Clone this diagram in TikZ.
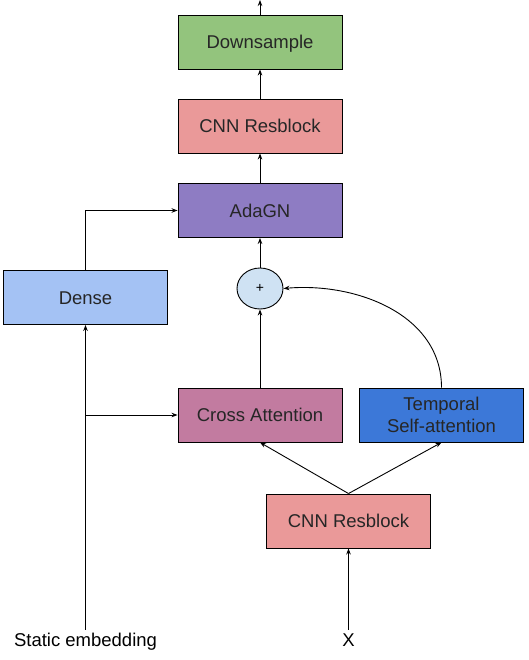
\documentclass[tikz,border=0pt]{standalone}
\usepackage{fontspec}
\setmainfont{Liberation Sans}
\usetikzlibrary{arrows.meta,positioning,shapes,calc}

\definecolor{dsgreen}{HTML}{93C47D}
\definecolor{resred}{HTML}{EA9999}
\definecolor{adapurple}{HTML}{8E7CC3}
\definecolor{densblue}{HTML}{A4C2F4}
\definecolor{crosspink}{HTML}{C27BA0}
\definecolor{tempblue}{HTML}{3C78D8}
\definecolor{plusblue}{HTML}{CFE2F3}

\tikzset{
  block/.style={draw=black, line width=0.9pt, minimum width=164pt, minimum height=54pt,
    inner sep=0pt, align=center, font=\fontsize{18.5}{21.5}\selectfont, text=black!85},
  oneline/.style={text height=13.3pt, text depth=0pt},
  arr/.style={-{Stealth[length=6pt,width=4.5pt]}, line width=0.9pt},
  lbl/.style={font=\fontsize{18.5}{21}\selectfont, text height=13.3pt, text depth=0pt}
}

\begin{document}
\begin{tikzpicture}[x=1pt, y=-1pt]
\useasboundingbox (0,0) rectangle (528,660);

% Main column
\node[block, oneline, fill=dsgreen] (down) at (260,42) {Downsample};
\node[block, oneline, fill=resred] (res1) at (260,126) {CNN Resblock};
\node[block, oneline, fill=adapurple] (ada) at (260,210.5) {AdaGN};
\node[draw=black, line width=0.9pt, fill=plusblue, ellipse, minimum width=46pt,
  minimum height=41pt, inner sep=0pt, font=\fontsize{14}{16}\selectfont] (plus) at (260,288.5) {+};

% Side blocks
\node[block, oneline, fill=densblue] (dense) at (85.5,297.5) {Dense};
\node[block, oneline, fill=crosspink] (cross) at (260,415) {Cross Attention};
\node[block, fill=tempblue] (temp) at (441.5,415) {Temporal\\Self-attention};
\node[block, oneline, fill=resred] (res2) at (348.5,521) {CNN Resblock};

% Inputs
\node[lbl] (emb) at (85.5,640) {Static embedding};
\node[lbl] (x) at (348.5,640) {X};
\coordinate (out) at (260,0);
\coordinate (split) at (85.5,415);

% Arrows
\draw[arr] (down.north) -- (out);
\draw[arr] (res1) -- (down);
\draw[arr] (ada) -- (res1);
\draw[arr] (plus) -- (ada);
\draw[arr] (cross) -- (plus);
\draw[arr] (temp.north) to[out=90, in=5] (plus.east);
\draw[arr] (dense.north) |- (ada.west);
\draw[arr] (emb.north) -- (dense.south);
\draw[arr] (split) -- (cross.west);
\draw[arr] (x.north) -- (res2.south);
\draw[arr] (res2.north) -- (cross.south);
\draw[arr] (res2.north) -- (temp.south);

\end{tikzpicture}
\end{document}
